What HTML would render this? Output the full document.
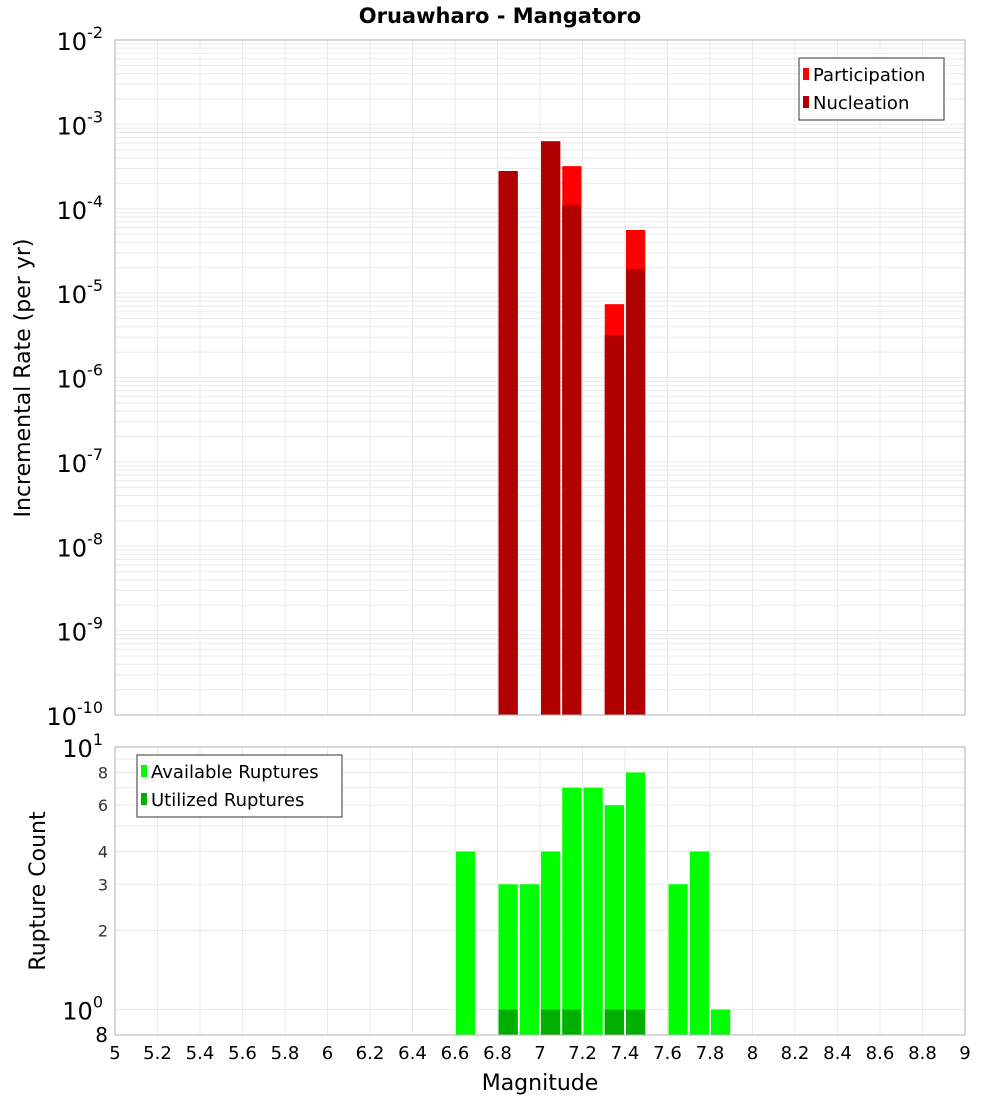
<!DOCTYPE html>
<html><head><meta charset="utf-8"><style>
body{margin:0;background:#fff;}
svg text{font-family:"DejaVu Sans","Liberation Sans",sans-serif;}
</style></head><body>
<svg id="chart" width="1000" height="1100" xmlns="http://www.w3.org/2000/svg">
<text x="500" y="23" text-anchor="middle" font-size="21" font-weight="bold">Oruawharo - Mangatoro</text>
<g id="topPlot"></g>
<g id="botPlot"></g>
<text x="30" y="378" font-size="22" text-anchor="middle" transform="rotate(-90 30 378)">Incremental Rate (per yr)</text>
<text x="45" y="891" font-size="22" text-anchor="middle" transform="rotate(-90 45 891)">Rupture Count</text>
<text x="540" y="1090" font-size="22" text-anchor="middle">Magnitude</text>
</svg>
<script>
const binStarts=[6.8,7.0,7.1,7.3,7.4];
const participation=[2.8e-4,6.3e-4,3.2e-4,7.4e-6,5.6e-5];
const nucleation=[2.8e-4,6.3e-4,1.1e-4,3.2e-6,1.93e-5];
const countBins=[6.6,6.8,6.9,7.0,7.1,7.2,7.3,7.4,7.6,7.7,7.8];
const available=[4,3,3,4,7,7,6,8,3,4,1];
const utilizedBins=[6.8,7.0,7.1,7.3,7.4];
const utilized=[1,1,1,1,1];
const xTicks=[5,5.2,5.4,5.6,5.8,6,6.2,6.4,6.6,6.8,7,7.2,7.4,7.6,7.8,8,8.2,8.4,8.6,8.8,9];
const topDecades=[-10,-9,-8,-7,-6,-5,-4,-3,-2];
const botTickVals=[2,3,4,6,8];

const NS='http://www.w3.org/2000/svg';
const L=115,R=965;
const X=m=>L+(m-5)/4*(R-L);
const T0=40,T1=715;
const YT=v=>T0+(-2-Math.log10(v))/8*(T1-T0);
const B0=747,B1=1035;
const YB=v=>B0+(1-Math.log10(v))/(1-Math.log10(0.8))*(B1-B0);
function mk(p,tag,a,txt){const e=document.createElementNS(NS,tag);for(const k in a)e.setAttribute(k,a[k]);if(txt!==undefined)e.textContent=txt;p.appendChild(e);return e;}
const topG=document.getElementById('topPlot'),botG=document.getElementById('botPlot');
for(let d=-10;d<-2;d++)for(let k=1;k<10;k++){const y=YT(k*Math.pow(10,d));const g=mk(topG,'line',{x1:L,x2:R,y1:y,y2:y,stroke:'#ebebeb','stroke-width':1});

}
xTicks.forEach(t=>{const x=X(t);const g=mk(topG,'line',{x1:x,x2:x,y1:T0,y2:T1,stroke:'#ebebeb'});


const g2=mk(botG,'line',{x1:x,x2:x,y1:B0,y2:B1,stroke:'#ebebeb'});

});
for(let k=1;k<=10;k++){const y=YB(k);const g=mk(botG,'line',{x1:L,x2:R,y1:y,y2:y,stroke:'#ebebeb'});

}
binStarts.forEach((m,i)=>{const x=X(m)+1,w=X(m+0.1)-X(m)-2;
const p=mk(topG,'rect',{x:x,y:YT(participation[i]),width:w,height:T1-YT(participation[i]),fill:'#ff0000'});


const n=mk(topG,'rect',{x:x,y:YT(nucleation[i]),width:w,height:T1-YT(nucleation[i]),fill:'#b00000'});

});
countBins.forEach((m,i)=>{const x=X(m)+1,w=X(m+0.1)-X(m)-2;const r=mk(botG,'rect',{x:x,y:YB(available[i]),width:w,height:B1-YB(available[i]),fill:'#00ff00'});

});
utilizedBins.forEach((m,i)=>{const x=X(m)+1,w=X(m+0.1)-X(m)-2;const r=mk(botG,'rect',{x:x,y:YB(utilized[i]),width:w,height:B1-YB(utilized[i]),fill:'#00b000'});

});
let f=mk(topG,'rect',{x:L,y:T0,width:R-L,height:T1-T0,fill:'none',stroke:'#b0b0b0'});


f=mk(botG,'rect',{x:L,y:B0,width:R-L,height:B1-B0,fill:'none',stroke:'#b0b0b0'});


topDecades.forEach(d=>{const y=YT(Math.pow(10,d));const t=mk(topG,'text',{x:103,y:y+10,'text-anchor':'end','font-size':24});


mk(t,'tspan',{},'10');mk(t,'tspan',{dy:-12,'font-size':16},String(d));});
botTickVals.forEach(v=>{const t=mk(botG,'text',{x:108,y:YB(v)+6,'text-anchor':'end','font-size':16,fill:'#333'},String(v));

});
[[10,'1',B0],[1,'0',YB(1)]].forEach(([v,e,y])=>{const t=mk(botG,'text',{x:103,y:y+10,'text-anchor':'end','font-size':24});


mk(t,'tspan',{},'10');mk(t,'tspan',{dy:-12,'font-size':16},e);});
let t8=mk(botG,'text',{x:108,y:1042,'text-anchor':'end','font-size':20},'8');


xTicks.forEach(v=>{const t=mk(botG,'text',{x:X(v),y:1059,'text-anchor':'middle','font-size':18},String(v));

});
function legend(p,x,y,w,items,name){const g=mk(p,'g',{});


mk(g,'rect',{x:x,y:y,width:w,height:28*items.length+6,fill:'#fff',stroke:'#333'});
items.forEach(([c,l],i)=>{mk(g,'rect',{x:x+4,y:y+10+28*i,width:6,height:12,fill:c});const t=mk(g,'text',{x:x+14,y:y+23+28*i,'font-size':18},l);

});}
legend(topG,799,58,145,[['#ff0000','Participation'],['#b00000','Nucleation']],'top-legend');
legend(botG,137,755,205,[['#00ff00','Available Ruptures'],['#00b000','Utilized Ruptures']],'bottom-legend');
</script>
</body></html>
